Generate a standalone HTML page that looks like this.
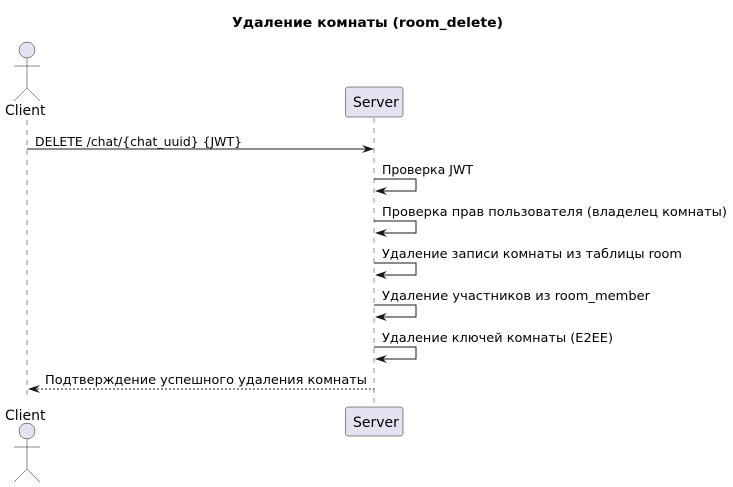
<!DOCTYPE html>
<html><head><meta charset="utf-8"><style>html,body{margin:0;padding:0;background:#fff}svg{display:block}</style></head><body>
<svg width="733" height="487" viewBox="0 0 733 487" xmlns="http://www.w3.org/2000/svg" font-family="DejaVu Sans, Liberation Sans, sans-serif">
<rect width="733" height="487" fill="#fff"/>
<text x="232" y="27" font-size="13" font-weight="bold" textLength="271" lengthAdjust="spacingAndGlyphs">Удаление комнаты (room_delete)</text>
<g stroke="#181818" stroke-width="0.5" stroke-dasharray="5,5" fill="none">
<line x1="27" y1="120" x2="27" y2="400"/>
<line x1="374" y1="118" x2="374" y2="406"/>
</g>
<g fill="#E2E2F0" stroke="#181818" stroke-width="0.5">
<circle cx="27" cy="50" r="8"/>
<circle cx="27" cy="431" r="8"/>
<rect x="345.5" y="87" width="57.5" height="30" rx="2.5"/>
<rect x="345.5" y="407" width="57.5" height="29" rx="2.5"/>
</g>
<g stroke="#181818" stroke-width="0.5" fill="none">
<path d="M27 58V88M14 66H40M27 88L14 101M27 88L40 101"/>
<path d="M27 439V469M14 447H40M27 469L14 482M27 469L40 482"/>
</g>
<g font-size="14" fill="#000">
<text x="5" y="115">Client</text>
<text x="5" y="420">Client</text>
<text x="353" y="107">Server</text>
<text x="353" y="427">Server</text>
</g>
<g stroke="#181818" stroke-width="1" fill="none">
<line x1="27" y1="149" x2="372" y2="149"/>
<path d="M374 179H416V191H376"/>
<path d="M374 221H416V233H376"/>
<path d="M374 263H416V275H376"/>
<path d="M374 305H416V317H376"/>
<path d="M374 347H416V359H376"/>
<line x1="29" y1="389" x2="374" y2="389" stroke-dasharray="2,2"/>
</g>
<g fill="#181818">
<path d="M374 149L362 145L366 149L362 153Z"/>
<path d="M375 191L387 187L383 191L387 195Z"/>
<path d="M375 233L387 229L383 233L387 237Z"/>
<path d="M375 275L387 271L383 275L387 279Z"/>
<path d="M375 317L387 313L383 317L387 321Z"/>
<path d="M375 359L387 355L383 359L387 363Z"/>
<path d="M28 389L40 385L36 389L40 393Z"/>
</g>
<g font-size="12.5" fill="#000">
<text x="35" y="146" textLength="207" lengthAdjust="spacingAndGlyphs">DELETE /chat/{chat_uuid} {JWT}</text>
<text x="382" y="174" textLength="91" lengthAdjust="spacingAndGlyphs">Проверка JWT</text>
<text x="382" y="216" textLength="345" lengthAdjust="spacingAndGlyphs">Проверка прав пользователя (владелец комнаты)</text>
<text x="382" y="258" textLength="300" lengthAdjust="spacingAndGlyphs">Удаление записи комнаты из таблицы room</text>
<text x="382" y="300" textLength="268" lengthAdjust="spacingAndGlyphs">Удаление участников из room_member</text>
<text x="382" y="342" textLength="231" lengthAdjust="spacingAndGlyphs">Удаление ключей комнаты (E2EE)</text>
<text x="45" y="384" textLength="322" lengthAdjust="spacingAndGlyphs">Подтверждение успешного удаления комнаты</text>
</g>
</svg>
</body></html>
